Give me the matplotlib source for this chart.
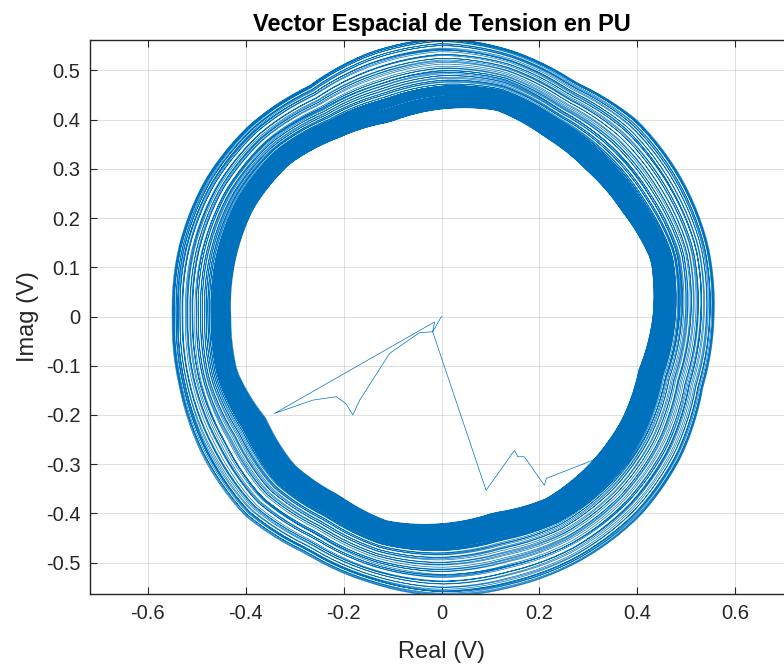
import numpy as np
import matplotlib
matplotlib.use("Agg")
import matplotlib.pyplot as plt

# ---------------- data ----------------
# Ring profile: angle (deg) -> inner (steady-state) and outer radius (pu)
prof_angle = [0, 15, 30, 45, 60, 75, 90, 105, 120, 135, 150, 165,
              180, 195, 210, 225, 240, 255, 270, 285, 300, 315, 330, 345]
r_inner = [0.431, 0.442, 0.425, 0.418, 0.420, 0.432, 0.419, 0.406,
           0.417, 0.436, 0.440, 0.434, 0.428, 0.430, 0.412, 0.424,
           0.418, 0.429, 0.420, 0.412, 0.427, 0.426, 0.424, 0.417]
r_outer = [0.557, 0.564, 0.566, 0.566, 0.551, 0.561, 0.568, 0.559,
           0.543, 0.554, 0.558, 0.556, 0.551, 0.555, 0.565, 0.571,
           0.557, 0.561, 0.569, 0.569, 0.572, 0.573, 0.566, 0.553]

# Relative level of every revolution inside the ring (0 = inner, 1 = outer)
loop_levels = [
    0.00, 0.40, 0.75, 0.97, 1.00, 0.95, 0.99, 0.92, 0.98, 0.89,
    0.94, 0.86, 0.93, 0.81, 0.89, 0.78, 0.84, 0.79, 0.72, 0.80,
    0.69, 0.75, 0.64, 0.73, 0.61, 0.67, 0.63, 0.55, 0.61, 0.52,
    0.58, 0.47, 0.55, 0.45, 0.51, 0.41, 0.48, 0.39, 0.44, 0.36,
    0.42, 0.34, 0.38, 0.31, 0.36, 0.28, 0.33, 0.26, 0.31, 0.22,
    0.29, 0.24, 0.19, 0.27, 0.16, 0.23, 0.20, 0.13, 0.21, 0.11,
    0.18, 0.14, 0.08, 0.17, 0.06, 0.12, 0.09, 0.03, 0.10, 0.01,
    0.07, 0.04, 0.00, 0.05, 0.02, 0.08, 0.01, 0.06, 0.03, 0.11,
    0.04, 0.09, 0.14, 0.07, 0.12, 0.18, 0.10, 0.16, 0.21, 0.13,
    0.19, 0.25, 0.15, 0.22, 0.28, 0.17, 0.24, 0.31, 0.20, 0.27,
    0.34, 0.23, 0.30, 0.37, 0.26, 0.32, 0.22, 0.29, 0.35, 0.25,
    0.18, 0.27, 0.14, 0.21, 0.09, 0.16, 0.05, 0.12, 0.02, 0.08,
    0.00, 0.06, 0.13, 0.04, 0.10, 0.19, 0.07, 0.15, 0.24, 0.11,
    0.20, 0.28, 0.17, 0.33, 0.23, 0.30, 0.19, 0.26, 0.14, 0.22,
]

# Start-up transient (real, imag) before entering the ring
start_re = [0.000, -0.018, -0.045, -0.106, -0.167, -0.181, -0.195, -0.215,
            -0.263, -0.341, -0.014, -0.018, 0.091, 0.149, 0.156, 0.169,
            0.210, 0.214, 0.309, 0.343]
start_im = [0.000, -0.031, -0.033, -0.075, -0.170, -0.200, -0.177, -0.163,
            -0.170, -0.197, -0.011, -0.031, -0.353, -0.272, -0.285, -0.285,
            -0.343, -0.329, -0.292, -0.265]

title_txt = "Vector Espacial de Tension en PU"
xlabel_txt = "Real (V)"
ylabel_txt = "Imag (V)"
xticks = [-0.6, -0.4, -0.2, 0, 0.2, 0.4, 0.6]
yticks = [-0.5, -0.4, -0.3, -0.2, -0.1, 0, 0.1, 0.2, 0.3, 0.4, 0.5]

# ---------------- build trajectory ----------------
ang_p = np.array(prof_angle, float)
rin_p = np.array(r_inner)
rout_p = np.array(r_outer)
theta0 = np.degrees(np.arctan2(start_im[-1], start_re[-1]))

re_all = list(start_re)
im_all = list(start_im)
npts = 160
for k in range(len(loop_levels) - 1):
    t = np.linspace(0, 1, npts, endpoint=False)
    th = theta0 + 360.0 * (k + t)
    thm = np.mod(th, 360.0)
    ri = np.interp(thm, ang_p, rin_p, period=360)
    ro = np.interp(thm, ang_p, rout_p, period=360)
    f = loop_levels[k] + (loop_levels[k + 1] - loop_levels[k]) * t
    r = ri + f * (ro - ri)
    re_all.extend(r * np.cos(np.radians(th)))
    im_all.extend(r * np.sin(np.radians(th)))

# ---------------- plot ----------------
plt.rcParams['font.family'] = ['Liberation Sans', 'DejaVu Sans']
W, H = 784, 669
fig = plt.figure(figsize=(W / 100, H / 100), dpi=100)
ax = fig.add_axes([90 / W, (H - 594.3) / H, 703 / W, 554.6 / H])

blue = '#0072BD'
ax.plot(re_all, im_all, color=blue, lw=0.5, solid_joinstyle='round')

ax.set_xlim(-0.7175, 0.7175)
ax.set_ylim(-0.5645, 0.5625)
ax.set_xticks(xticks)
ax.set_yticks(yticks)
ax.set_xticklabels([('%g' % v) for v in xticks])
ax.set_yticklabels([('%g' % v) for v in yticks])
ax.grid(True, color='#262626', alpha=0.15, lw=0.7)
ax.set_axisbelow(True)
ax.tick_params(direction='in', length=5, width=0.8, colors='#262626',
               labelsize=14.5, top=True, right=True, pad=7)
for s in ax.spines.values():
    s.set_color('#262626')
    s.set_linewidth(1.0)

ax.set_title(title_txt, fontsize=17, fontweight='bold', color='black', pad=6)
ax.set_xlabel(xlabel_txt, fontsize=17, color='#262626', labelpad=13)
ax.set_ylabel(ylabel_txt, fontsize=17, color='#262626', labelpad=5)

fig.savefig('out.png', dpi=100)
